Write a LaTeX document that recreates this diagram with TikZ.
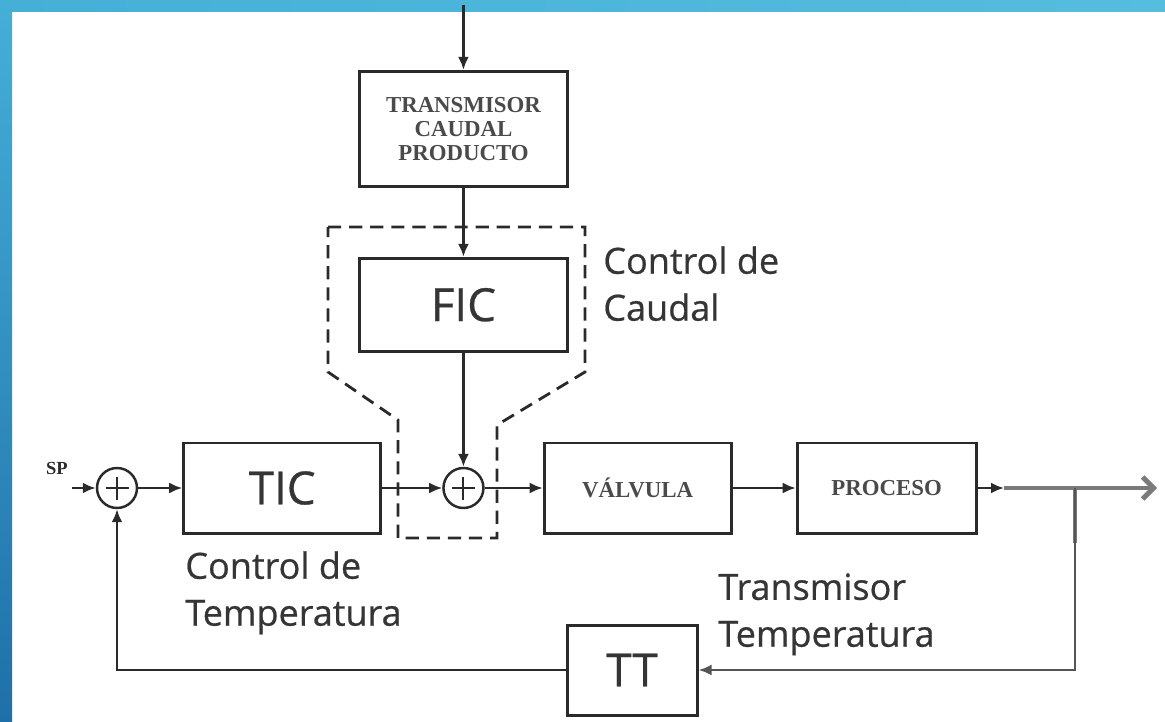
\documentclass[tikz,border=0pt]{standalone}
\usepackage{fontspec}
\setmainfont{Liberation Serif}
\setsansfont{Open Sans}
\newfontfamily\lblfont{Open Sans}[FakeBold=0.6]
\usetikzlibrary{arrows.meta,positioning}

\definecolor{inkgray}{HTML}{2A2A2A}
\definecolor{txtgray}{HTML}{353535}
\definecolor{outgray}{HTML}{7A7A7A}
\definecolor{barleft}{HTML}{45AFD7}
\definecolor{barright}{HTML}{55BDDE}
\definecolor{barbottom}{HTML}{1F70A8}

\begin{document}
\begin{tikzpicture}[
    font=\sffamily,
    node distance=1.2cm,
    block/.style={
        draw=inkgray,
        minimum height=1.8cm,
        align=center,
        inner sep=2pt,
        line width=1.7pt
    },
    tag/.style={
        font=\lblfont\fontsize{26}{30}\selectfont,
        text=txtgray
    },
    caps/.style={
        font=\rmfamily\bfseries\fontsize{13}{13.7}\selectfont,
        text=inkgray!85
    },
    sumnode/.style={
        circle,
        draw=inkgray,
        minimum size=0.8cm,
        inner sep=0pt,
        line width=1.4pt,
        path picture={
            \draw[line width=1.1pt]
              ([xshift=-2.3mm]path picture bounding box.center) --
              ([xshift=2.3mm]path picture bounding box.center)
              ([yshift=-2.3mm]path picture bounding box.center) --
              ([yshift=2.3mm]path picture bounding box.center);
        }
    },
    note/.style={
        align=left,
        anchor=north west,
        inner sep=0pt,
        font=\lblfont\fontsize{20.5}{26.7}\selectfont,
        text=txtgray
    },
    arrow/.style={
        -{Latex[length=2.6mm,width=2.2mm]},
        draw=inkgray,
        line width=1.4pt
    },
    zone/.style={
        draw=inkgray,
        dash pattern=on 7.5pt off 4.5pt,
        line width=1.6pt
    }
]

\useasboundingbox (0,0) rectangle (23.3,14.42);

% frame
\shade[left color=barleft, right color=barright] (0,14.18) rectangle (23.3,14.42);
\shade[top color=barleft, bottom color=barbottom] (0,0) rectangle (0.24,14.42);

% main loop
\node[sumnode] (sum1) at (2.34,4.66) {};

\node[block, tag, minimum width=3.94cm, right=0.88cm of sum1] (tic) {TIC};

\node[sumnode, right=1.2cm of tic] (sum2) {};

\node[block, caps, minimum width=3.74cm, right=1.16cm of sum2] (vlv) {VÁLVULA};

\node[block, caps, minimum width=3.58cm, right=1.26cm of vlv] (proc) {PROCESO};

% flow branch
\node[block, tag, minimum width=4.16cm, minimum height=1.86cm,
      above=2.28cm of sum2] (fic) {FIC};

\node[block, caps, minimum width=4.16cm, minimum height=2.3cm,
      above=1.38cm of fic] (ftx) {
    TRANSMISOR\\
    CAUDAL\\
    PRODUCTO
};

\coordinate[above=1.3cm of ftx] (feed);

% temperature transmitter
\node[block, tag, minimum width=2.6cm] (tt) at (12.64,1.02) {TT};

% set point
\node[anchor=base east, inner sep=0pt,
      font=\rmfamily\bfseries\fontsize{10.5}{12}\selectfont,
      text=inkgray] (splbl) at (1.36,4.94) {SP};
\coordinate (spin) at (1.44,4.66);

% output
\coordinate (pout) at (20.08,4.66);
\coordinate (tap) at (21.5,4.66);
\coordinate (tapdn) at (21.5,3.56);
\coordinate (outend) at (23.14,4.66);

% flow control zone
\draw[zone] (6.56,9.88) -- (11.70,9.88) -- (11.70,6.98) -- (9.94,5.92)
    -- (9.94,3.66) -- (7.96,3.66) -- (7.96,6.02) -- (6.56,6.98) -- cycle;

% labels
\node[note] (lblq) at (12.06,9.50) {Control de\\Caudal};
\node[note] (lblt) at (3.70,3.40) {Control de\\Temperatura};
\node[note] (lbltt) at (14.36,2.96) {Transmisor\\Temperatura};

% connectors
\draw[arrow] (feed) -- (ftx);
\draw[arrow] (ftx) -- (fic);
\draw[arrow] (fic) -- (sum2);

\draw[arrow] (spin) -- (sum1);
\draw[arrow] (sum1) -- (tic);
\draw[arrow] (tic) -- (sum2);
\draw[arrow] (sum2) -- (vlv);
\draw[arrow] (vlv) -- (proc);

\draw[outgray, line width=2.8pt, -{Straight Barb[length=2.2mm,width=4.4mm]}] (pout) -- (outend);
\draw[outgray, line width=2.8pt] (tap) -- (tapdn);
\draw[arrow] (proc) -- (pout);

\draw[arrow, draw=outgray!70!black] (tap) |- (tt);
\draw[arrow] (tt) -| (sum1);

\end{tikzpicture}
\end{document}
